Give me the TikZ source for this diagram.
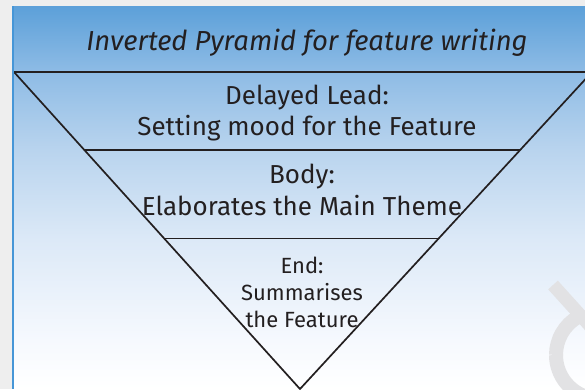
\documentclass[tikz,border=0pt]{standalone}
\usepackage{fontspec}
\setmainfont{Fira Sans}
\usetikzlibrary{calc}
\definecolor{bggray}{RGB}{238,238,238}
\definecolor{panelblue}{RGB}{70,150,215}
\definecolor{ink}{RGB}{35,31,32}
\definecolor{wm}{RGB}{226,226,228}
\pgfdeclareverticalshading{panelshade}{100bp}{%
  color(0bp)=(white); color(25bp)=(white);
  color(31.4bp)=(rgb,255:red,246;green,249;blue,254);
  color(44.5bp)=(rgb,255:red,220;green,233;blue,247);
  color(56.2bp)=(rgb,255:red,185;green,212;blue,238);
  color(66.6bp)=(rgb,255:red,141;green,187;blue,229);
  color(75bp)=(rgb,255:red,92;green,160;blue,217);
  color(100bp)=(rgb,255:red,92;green,160;blue,217)}
\tikzset{
  edge/.style={draw=ink, line width=1.7pt, line join=miter},
  titletext/.style={text=ink, font=\fontsize{27.5}{30}\selectfont\itshape, align=center},
  bigtext/.style={text=ink, font=\fontsize{26}{30.5}\selectfont, align=center},
  smalltext/.style={text=ink, font=\fontsize{22}{27}\selectfont, align=center},
  wmstroke/.style={draw=wm, line width=13pt}
}
\begin{document}
\begin{tikzpicture}[x=1pt,y=-1pt]
\useasboundingbox (0,0) rectangle (585,389);
\fill[bggray] (0,0) rectangle (585,389);
\shade[shading=panelshade] (13,6) rectangle (585,389);
\begin{scope}
\clip (13,6) rectangle (585,389);
% watermark
\draw[wmstroke] (553,285) -- (600,337);
\draw[wmstroke, line width=14pt] (600,355) ++(180:44) arc[start angle=180, end angle=100, radius=44];
\draw[wmstroke, line width=14pt] (600,355) ++(180:44) arc[start angle=180, end angle=240, radius=44];
\draw[wmstroke, line width=12pt] (540,420) ++(150:30) arc[start angle=150, end angle=60, radius=30];
% pyramid
\coordinate (TL) at (14,72);
\coordinate (TR) at (592,72);
\coordinate (A) at (300,389);
\coordinate (L1) at ($(TL)!0.245!(A)$);
\coordinate (R1) at ($(TR)!0.245!(A)$);
\coordinate (L2) at ($(TL)!0.525!(A)$);
\coordinate (R2) at ($(TR)!0.525!(A)$);
\draw[edge] (TL) -- (TR) -- (A) -- cycle;
\draw[edge] (L1) -- (R1);
\draw[edge] (L2) -- (R2);
\end{scope}
\draw[panelblue, line width=2pt] (13,6) -- (13,389);
% texts
\node[titletext] (title) at (307,43) {Inverted Pyramid for feature writing};
\node[bigtext] (lead) at (307,113) {Delayed Lead:\\Setting mood for the Feature};
\node[bigtext] (body) at (302,190) {Body:\\[2pt]Elaborates the Main Theme};
\node[smalltext] (end) at (302,292) {End:\\Summarises\\the Feature};
\end{tikzpicture}
\end{document}
